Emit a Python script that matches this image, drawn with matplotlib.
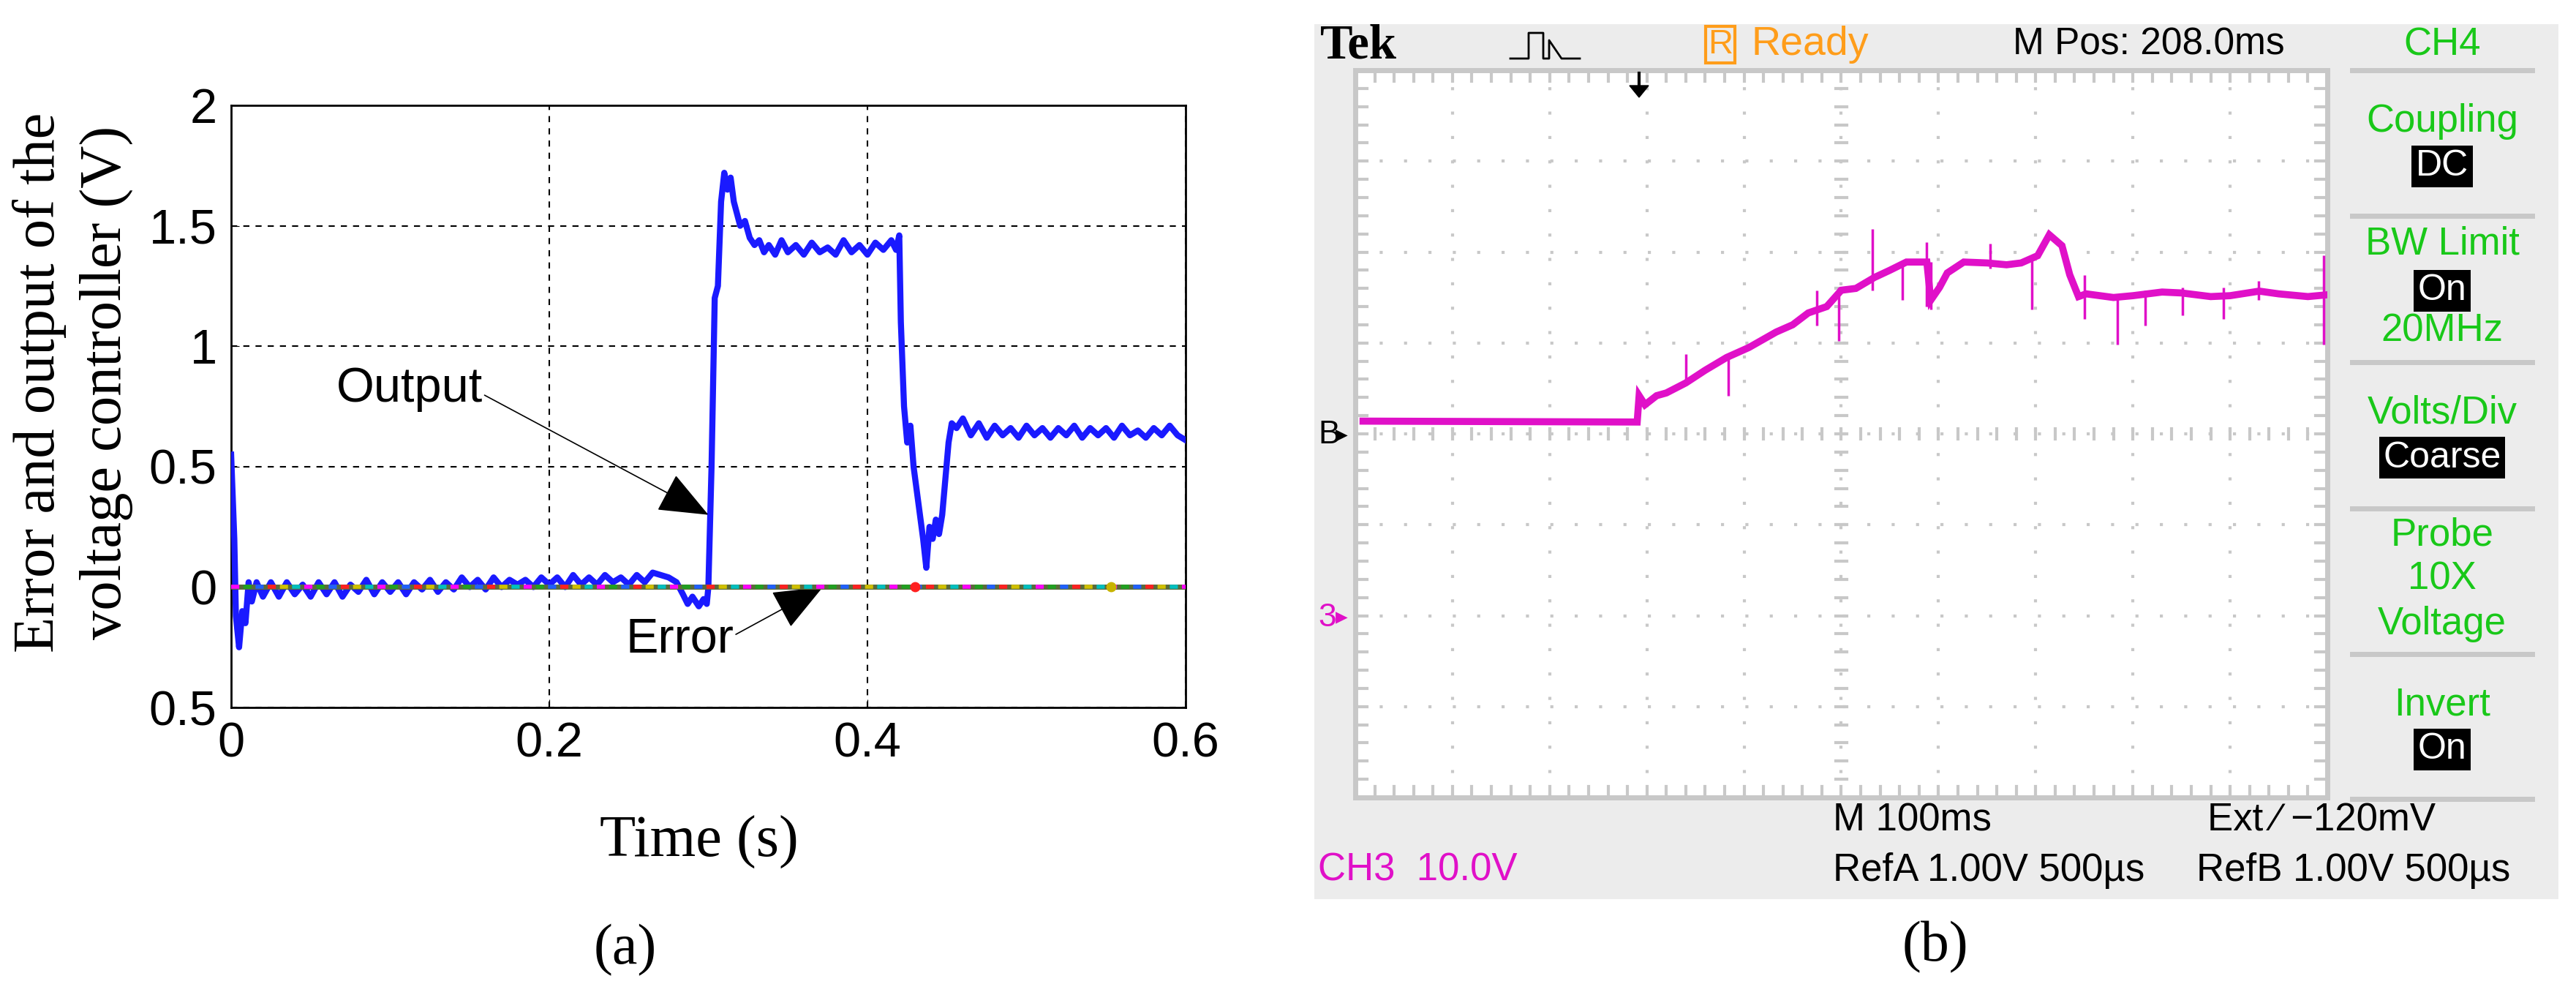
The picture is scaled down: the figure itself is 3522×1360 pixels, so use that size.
import matplotlib
matplotlib.use("Agg")
import matplotlib.pyplot as plt
from matplotlib.patches import Rectangle

W, H = 3523, 1360

# ---------------- data (a) ----------------
out_t = [0.0, 0.002, 0.003, 0.005, 0.007, 0.009, 0.011, 0.013, 0.016, 0.02, 0.025, 0.03, 0.035, 0.04,
         0.045, 0.05, 0.055, 0.06, 0.065, 0.07, 0.075, 0.08, 0.085, 0.09, 0.095, 0.10, 0.105, 0.11,
         0.115, 0.12, 0.125, 0.13, 0.135, 0.14, 0.145, 0.15, 0.155, 0.16, 0.165, 0.17, 0.175, 0.18,
         0.185, 0.19, 0.195, 0.20, 0.205, 0.21, 0.215, 0.22, 0.225, 0.23, 0.235, 0.24, 0.245, 0.25,
         0.255, 0.26, 0.265, 0.27, 0.275, 0.28, 0.284, 0.287, 0.29, 0.294, 0.297, 0.299, 0.300,
         0.302, 0.304, 0.306, 0.308, 0.310, 0.312, 0.314, 0.316, 0.318, 0.320, 0.323, 0.326, 0.329,
         0.332, 0.335, 0.338, 0.342, 0.346, 0.35, 0.355, 0.36, 0.365, 0.37, 0.375, 0.38, 0.385, 0.39,
         0.395, 0.40, 0.405, 0.41, 0.415, 0.418, 0.420, 0.421, 0.423, 0.425, 0.427, 0.429, 0.431,
         0.433, 0.435, 0.437, 0.439, 0.441, 0.443, 0.445, 0.447, 0.449, 0.451, 0.453, 0.456, 0.46,
         0.465, 0.47, 0.475, 0.48, 0.485, 0.49, 0.495, 0.50, 0.505, 0.51, 0.515, 0.52, 0.525, 0.53,
         0.535, 0.54, 0.545, 0.55, 0.555, 0.56, 0.565, 0.57, 0.575, 0.58, 0.585, 0.59, 0.595, 0.60]
out_v = [0.55, 0.2, -0.12, -0.25, -0.1, -0.15, 0.02, -0.06, 0.02, -0.04, 0.02, -0.04, 0.02, -0.03,
         0.01, -0.04, 0.02, -0.03, 0.02, -0.04, 0.01, -0.02, 0.03, -0.03, 0.02, -0.02, 0.02, -0.03,
         0.02, -0.01, 0.03, -0.02, 0.02, -0.01, 0.04, 0.0, 0.03, -0.01, 0.04, 0.0, 0.03, 0.01,
         0.03, 0.0, 0.04, 0.01, 0.04, 0.0, 0.05, 0.01, 0.04, 0.01, 0.05, 0.02, 0.04, 0.01,
         0.05, 0.02, 0.06, 0.05, 0.04, 0.02, -0.03, -0.07, -0.04, -0.08, -0.05, -0.07, 0.0,
         0.5, 1.2, 1.25, 1.6, 1.72, 1.65, 1.7, 1.6, 1.55, 1.5, 1.52, 1.45, 1.42,
         1.44, 1.39, 1.42, 1.38, 1.44, 1.39, 1.42, 1.38, 1.43, 1.39, 1.41, 1.38, 1.44, 1.39,
         1.42, 1.38, 1.43, 1.40, 1.44, 1.40, 1.46, 1.1, 0.75, 0.6, 0.67, 0.5, 0.4,
         0.3, 0.2, 0.08, 0.25, 0.2, 0.28, 0.22, 0.3, 0.45, 0.6, 0.68, 0.66, 0.70,
         0.63, 0.68, 0.62, 0.67, 0.63, 0.66, 0.62, 0.67, 0.63, 0.66, 0.62, 0.66, 0.63, 0.67,
         0.62, 0.66, 0.63, 0.66, 0.62, 0.67, 0.63, 0.65, 0.62, 0.66, 0.63, 0.67, 0.63, 0.61]
err_t = [0.0, 0.6]
err_v = [0.0, 0.0]
a_xticks = [0, 0.2, 0.4, 0.6]
a_xlabels = ["0", "0.2", "0.4", "0.6"]
a_yticks = [-0.5, 0, 0.5, 1, 1.5, 2]
a_ylabels = ["0.5", "0", "0.5", "1", "1.5", "2"]

# ---------------- data (b) (in divisions) ----------------
tr_x = [0.08, 2.90, 2.92, 2.98, 3.10, 3.20, 3.40, 3.60, 3.82, 4.05, 4.33, 4.50, 4.66, 4.85, 5.00, 5.15,
        5.34, 5.50, 5.67, 5.88, 5.92, 6.01, 6.09, 6.26, 6.50, 6.70, 6.85, 7.02, 7.14, 7.27, 7.35, 7.44,
        7.52, 7.8, 8.0, 8.3, 8.5, 8.8, 9.0, 9.3, 9.5, 9.8, 10.0]
tr_y = [4.14, 4.13, 4.42, 4.32, 4.42, 4.45, 4.56, 4.70, 4.84, 4.95, 5.12, 5.20, 5.33, 5.40, 5.58, 5.60,
        5.72, 5.80, 5.89, 5.89, 5.47, 5.61, 5.77, 5.89, 5.88, 5.86, 5.88, 5.96, 6.19, 6.07, 5.75, 5.51,
        5.54, 5.50, 5.52, 5.56, 5.55, 5.51, 5.52, 5.57, 5.54, 5.51, 5.53]
spk_x = [3.40, 3.84, 4.75, 4.97, 5.32, 5.63, 5.88, 5.92, 6.53, 6.96, 7.50, 7.84, 8.13, 8.51, 8.93, 9.29, 9.96]
spk_lo = [4.56, 4.42, 5.19, 5.02, 5.58, 5.47, 5.40, 5.37, 5.82, 5.37, 5.26, 4.98, 5.19, 5.30, 5.26, 5.47, 4.98]
spk_hi = [4.88, 4.88, 5.58, 5.61, 6.25, 5.86, 6.11, 5.89, 6.09, 5.93, 5.75, 5.54, 5.58, 5.61, 5.61, 5.68, 5.96]

fig = plt.figure(figsize=(W / 100, H / 100), dpi=100)

def P(x, y):
    return (x / W, 1 - y / H)

# ================= panel (a) =================
ax = fig.add_axes([316 / W, 1 - 967 / H, (1621 - 316) / W, (967 - 144) / H])
ax.plot(out_t, out_v, color="#1a1aff", lw=6, zorder=3)
ax.plot(err_t, err_v, color="#5a6a3a", lw=5, zorder=4)
for i, c in enumerate(["#ff00ff", "#00c0c0", "#d0c000", "#ff2020", "#2060ff", "#20a020"]):
    ax.plot(err_t, err_v, color=c, lw=4, zorder=5, linestyle=(i * 3, (2, 16)))
ax.plot([0.43], [0], "o", color="#ff2020", ms=9, zorder=6)
ax.plot([0.553], [0], "o", color="#c8b400", ms=9, zorder=6)
ax.set_xlim(0, 0.6)
ax.set_ylim(-0.5, 2)
ax.set_xticks(a_xticks)
ax.set_xticklabels(a_xlabels)
ax.set_yticks(a_yticks)
ax.set_yticklabels(a_ylabels)
ax.tick_params(direction="in", labelsize=48, length=8, pad=14)
for lab in ax.get_xticklabels() + ax.get_yticklabels():
    lab.set_family("Liberation Sans")
ax.grid(True, color="black", linestyle=(0, (4, 4)), lw=1.5)
for s in ax.spines.values():
    s.set_linewidth(2)
aprops = dict(arrowstyle="-|>,head_length=2.2,head_width=0.9", color="black", lw=1.2,
              shrinkA=0, shrinkB=0, mutation_scale=20)
ax.annotate("Output", xy=(0.3, 0.3), xytext=(0.112, 0.82), fontsize=48, family="Liberation Sans",
            ha="center", va="center", arrowprops=dict(aprops, relpos=(1.0, 0.4)))
ax.annotate("Error", xy=(0.372, 0.0), xytext=(0.282, -0.22), fontsize=48, family="Liberation Sans",
            ha="center", va="center", arrowprops=dict(aprops, relpos=(1.0, 0.6)))
fig.text(*P(54, 523), "Error and output of the", rotation=90, ha="center", va="center",
         fontsize=58, family="Liberation Serif")
fig.text(*P(145, 523), "voltage controller (V)", rotation=90, ha="center", va="center",
         fontsize=58, family="Liberation Serif")
fig.text(*P(956, 1151), "Time (s)", ha="center", va="center", fontsize=58, family="Liberation Serif")
fig.text(*P(855, 1299), "(a)", ha="center", va="center", fontsize=56, family="Liberation Serif")

# ================= panel (b) =================
fig.patches.append(Rectangle(P(1797, 1229), (3498 - 1797) / W, (1229 - 33) / H,
                             transform=fig.transFigure, facecolor="#ececec", edgecolor="none", zorder=-5))
bx = fig.add_axes([1853 / W, 1 - 1090 / H, (3182 - 1853) / W, (1090 - 96) / H])
bx.set_zorder(3)
bx.set_facecolor("white")
bx.set_xlim(0, 10)
bx.set_ylim(0, 8)
bx.set_xticks([])
bx.set_yticks([])
gcol = "#c8c8c8"
for s in bx.spines.values():
    s.set_color(gcol)
    s.set_linewidth(5)
for gx in range(1, 10):
    bx.plot([gx, gx], [0, 8], color=gcol, lw=3, linestyle=(0, (1, 7)))
for gy in range(1, 8):
    bx.plot([0, 10], [gy, gy], color=gcol, lw=3, linestyle=(0, (1, 7)))
for k in range(1, 50):
    xv = k * 0.2
    bx.plot([xv, xv], [0, 0.12], color=gcol, lw=3)
    bx.plot([xv, xv], [8 - 0.12, 8], color=gcol, lw=3)
    bx.plot([xv, xv], [3.94, 4.06], color=gcol, lw=3)
for k in range(1, 40):
    yv = k * 0.2
    bx.plot([0, 0.12], [yv, yv], color=gcol, lw=3)
    bx.plot([10 - 0.12, 10], [yv, yv], color=gcol, lw=3)
    bx.plot([4.94, 5.06], [yv, yv], color=gcol, lw=3)
bx.plot(tr_x, tr_y, color="#e010c8", lw=7, zorder=5, solid_joinstyle="miter")
bx.vlines(spk_x, spk_lo, spk_hi, color="#e010c8", lw=2.5, zorder=5)

mono = "Liberation Sans"
fig.text(*P(1805, 63), "Tek", ha="left", va="center", fontsize=48, weight="bold", family="Liberation Serif")
px = [2065, 2085, 2090, 2090, 2110, 2110, 2118, 2118, 2135, 2160]
py = [80, 80, 80, 45, 45, 80, 80, 55, 80, 80]
fig.lines.append(plt.Line2D([x / W for x in px], [1 - y / H for y in py], transform=fig.transFigure,
                            color="black", lw=2))
orange = "#ff9d1a"
fig.text(*P(2352, 61), "R", ha="center", va="center", fontsize=34, color=orange, family=mono,
         bbox=dict(facecolor="none", edgecolor=orange, lw=3, pad=2))
fig.text(*P(2395, 61), "Ready", ha="left", va="center", fontsize=40, color=orange, family=mono)
fig.text(*P(2752, 61), "M Pos: 208.0ms", ha="left", va="center", fontsize=37, color="black", family=mono)
fig.patches.append(plt.Polygon([P(2228, 117), P(2254, 117), P(2241, 133)], closed=True,
                               transform=fig.transFigure, color="black", zorder=10))
fig.lines.append(plt.Line2D([2241 / W, 2241 / W], [1 - 100 / H, 1 - 120 / H], transform=fig.transFigure,
                            color="black", lw=3, zorder=10))

green = "#19c819"
for yy in [96, 295, 495, 695, 894, 1092]:
    fig.lines.append(plt.Line2D([3216 / W, 3462 / W], [1 - yy / H, 1 - yy / H], transform=fig.transFigure,
                                color=gcol, lw=5))
cx = 3339
for txt, yy in [("CH4", 61), ("Coupling", 166), ("BW Limit", 334), ("20MHz", 453), ("Volts/Div", 564),
                ("Probe", 732), ("10X", 792), ("Voltage", 853), ("Invert", 963)]:
    fig.text(*P(cx, yy), txt, ha="center", va="center", fontsize=38, color=green, family=mono)
for txt, yy in [("DC", 227), ("On", 397), ("Coarse", 626), ("On", 1024)]:
    fig.text(*P(cx, yy), txt, ha="center", va="center", fontsize=36, color="white", family=mono,
             bbox=dict(facecolor="black", edgecolor="none", pad=4))

fig.text(*P(1802, 595), "B", ha="left", va="center", fontsize=32, color="black", family=mono)
fig.text(*P(1826, 595), "\u25b8", ha="left", va="center", fontsize=24, color="black", family="DejaVu Sans")
fig.text(*P(1802, 844), "3", ha="left", va="center", fontsize=32, color="#e010c8", family=mono)
fig.text(*P(1826, 844), "\u25b8", ha="left", va="center", fontsize=24, color="#e010c8", family="DejaVu Sans")

fig.text(*P(2506, 1122), "M 100ms", ha="left", va="center", fontsize=38, color="black", family=mono)
fig.text(*P(3018, 1122), "Ext \u2215 \u2212120mV", ha="left", va="center", fontsize=38, color="black", family=mono)
fig.text(*P(1802, 1190), "CH3  10.0V", ha="left", va="center", fontsize=38, color="#e010c8", family=mono)
fig.text(*P(2506, 1190), "RefA 1.00V 500\u00b5s", ha="left", va="center", fontsize=38, color="black", family=mono)
fig.text(*P(3003, 1190), "RefB 1.00V 500\u00b5s", ha="left", va="center", fontsize=38, color="black", family=mono)

fig.text(*P(2646, 1295), "(b)", ha="center", va="center", fontsize=56, family="Liberation Serif")

fig.savefig("out.png", dpi=100)
